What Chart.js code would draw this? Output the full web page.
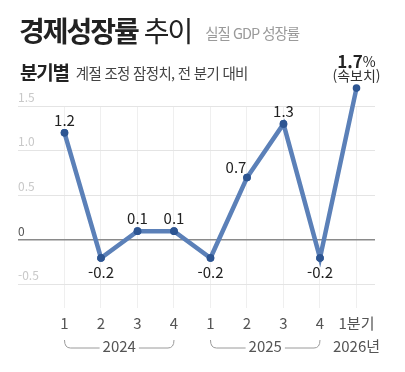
<!DOCTYPE html>
<html lang="ko">
<head>
    <meta charset="UTF-8">
    <title>경제성장률 추이</title>
    <script src="https://cdn.jsdelivr.net/npm/chart.js@4/dist/chart.umd.min.js"></script>
    <style>
        body {
            margin: 0;
            background: #fff;
            font-family: 'Noto Sans CJK KR', 'Noto Sans', sans-serif;
        }
        .wrap {
            position: relative;
            width: 405px;
            height: 372px;
        }
        .title {
            position: absolute;
            left: 19px;
            top: 11px;
            font-size: 28px;
            line-height: 38px;
            color: #222;
            letter-spacing: -2px;
            white-space: nowrap;
        }
        .title b { font-weight: 700; }
        .title .sub {
            font-size: 14.5px;
            color: #9a9a9a;
            letter-spacing: -1px;
            margin-left: 14px;
            vertical-align: 3px;
        }
        .subtitle {
            position: absolute;
            left: 20px;
            top: 59px;
            font-size: 19px;
            line-height: 26px;
            color: #222;
            letter-spacing: -1.2px;
            white-space: nowrap;
        }
        .subtitle span {
            font-size: 14.5px;
            color: #444;
            margin-left: 7px;
            letter-spacing: -0.7px;
            vertical-align: 1px;
        }
        canvas { position: absolute; left: 0; top: 0; }
    </style>
</head>
<body>
<div class="wrap">
    <canvas id="chart" width="405" height="372"></canvas>
    <div class="title"><b>경제성장률</b> 추이<span class="sub">실질 GDP 성장률</span></div>
    <div class="subtitle"><b>분기별</b><span>계절 조정 잠정치, 전 분기 대비</span></div>
</div>

<script>
    // data
    const quarterLabels = ['1', '2', '3', '4', '1', '2', '3', '4', '1분기'];
    const growth = [1.2, -0.2, 0.1, 0.1, -0.2, 0.7, 1.3, -0.2, 1.7];
    const yearGroups = [
        { label: '2024', from: 0, to: 3 },
        { label: '2025', from: 4, to: 7 }
    ];
    const lastYearLabel = '2026년';
    const lastNote = '(속보치)';
    const yTicks = [-0.5, 0, 0.5, 1.0, 1.5];

    const FONT = "'Noto Sans CJK KR', 'Noto Sans', sans-serif";

    const labelPlugin = {
        id: 'labels',
        afterDatasetsDraw(chart) {
            const ctx = chart.ctx;
            const pts = chart.getDatasetMeta(0).data;
            ctx.save();
            // points above the plot area are skipped by chart.js, draw them with a wider area
            pts.forEach(p => p.draw(ctx, { left: 0, top: 0, right: chart.width, bottom: chart.height }));
            ctx.textAlign = 'center';
            ctx.textBaseline = 'middle';
            pts.forEach((p, i) => {
                const v = growth[i];
                if (i === pts.length - 1) {
                    // last point: bold value with % plus note
                    const num = v.toFixed(1);
                    ctx.font = `700 17px ${FONT}`;
                    const w1 = ctx.measureText(num).width;
                    ctx.font = `400 14px ${FONT}`;
                    const w2 = ctx.measureText('%').width;
                    const left = p.x - (w1 + w2) / 2;
                    ctx.textAlign = 'left';
                    ctx.fillStyle = '#222';
                    ctx.font = `700 17px ${FONT}`;
                    ctx.fillText(num, left, p.y - 27);
                    ctx.font = `400 14px ${FONT}`;
                    ctx.fillText('%', left + w1, p.y - 26);
                    ctx.textAlign = 'center';
                    ctx.font = `400 14px ${FONT}`;
                    ctx.fillStyle = '#333';
                    ctx.fillText(lastNote, p.x, p.y - 12);
                    return;
                }
                ctx.font = `400 15px ${FONT}`;
                ctx.fillStyle = '#222';
                // on a rising slope the label moves left so it clears the line
                const rising = i > 0 && growth[i - 1] < v && growth[i + 1] > v;
                const dx = rising ? -11 : 0;
                const dy = v < 0 ? 14 : (rising ? -10 : -13);
                ctx.fillText(v.toFixed(1), p.x + dx, p.y + dy);
            });
            ctx.restore();
        },
        afterDraw(chart) {
            const ctx = chart.ctx;
            const xs = chart.scales.x;
            const yText = 346;
            ctx.save();
            ctx.font = `400 15px ${FONT}`;
            ctx.textAlign = 'center';
            ctx.textBaseline = 'middle';
            ctx.strokeStyle = '#9a9a9a';
            ctx.lineWidth = 1;
            yearGroups.forEach(g => {
                const x0 = xs.getPixelForValue(g.from);
                const x1 = xs.getPixelForValue(g.to);
                const cx = (x0 + x1) / 2;
                const tw = ctx.measureText(g.label).width;
                ctx.fillStyle = '#555';
                ctx.fillText(g.label, cx, yText);
                const top = 340, base = 348, r = 6;
                ctx.beginPath();
                ctx.moveTo(x0, top);
                ctx.quadraticCurveTo(x0, base, x0 + r, base);
                ctx.lineTo(cx - tw / 2 - 3, base);
                ctx.moveTo(cx + tw / 2 + 3, base);
                ctx.lineTo(x1 - r, base);
                ctx.quadraticCurveTo(x1, base, x1, top);
                ctx.stroke();
            });
            ctx.fillStyle = '#555';
            ctx.fillText(lastYearLabel, xs.getPixelForValue(growth.length - 1), yText);
            ctx.restore();
        }
    };

    new Chart(document.getElementById('chart'), {
        type: 'line',
        data: {
            datasets: [{
                data: growth.map((v, i) => ({ x: i, y: v })),
                borderColor: '#5b80b8',
                borderWidth: 4.5,
                pointRadius: 3.8,
                pointBackgroundColor: '#2d5592',
                pointBorderWidth: 0,
                tension: 0,
                clip: false
            }]
        },
        options: {
            responsive: false,
            animation: false,
            layout: { padding: { left: 18, right: 30, top: 106, bottom: 22 } },
            plugins: {
                legend: { display: false },
                tooltip: { enabled: false }
            },
            scales: {
                x: {
                    type: 'linear',
                    min: -1.274,
                    max: 8.507,
                    afterBuildTicks: s => { s.ticks = quarterLabels.map((_, i) => ({ value: i })); },
                    afterFit: s => { s.height = 42; },
                    border: { display: false },
                    grid: { color: '#efefef', lineWidth: 1, drawTicks: false },
                    ticks: {
                        padding: 6,
                        autoSkip: false,
                        maxRotation: 0,
                        color: '#555',
                        font: { family: FONT, size: 15 },
                        callback: v => quarterLabels[v]
                    }
                },
                y: {
                    min: -0.76,
                    max: 1.5,
                    afterBuildTicks: s => { s.ticks = yTicks.map(v => ({ value: v })); },
                    afterFit: s => { s.width = 0; },
                    border: { display: false },
                    grid: {
                        drawTicks: false,
                        color: c => c.tick && c.tick.value === 0 ? '#8a8a8a' : '#e4e4e4',
                        lineWidth: c => c.tick && c.tick.value === 0 ? 1.5 : 1
                    },
                    ticks: {
                        mirror: true,
                        padding: 0,
                        labelOffset: -9,
                        color: c => c.tick.value === 0 ? '#555' : '#c8c8c8',
                        font: { family: FONT, size: 12 },
                        callback: v => v === 0 ? '0' : v.toFixed(1)
                    }
                }
            }
        },
        plugins: [labelPlugin]
    });
</script>
</body>
</html>
